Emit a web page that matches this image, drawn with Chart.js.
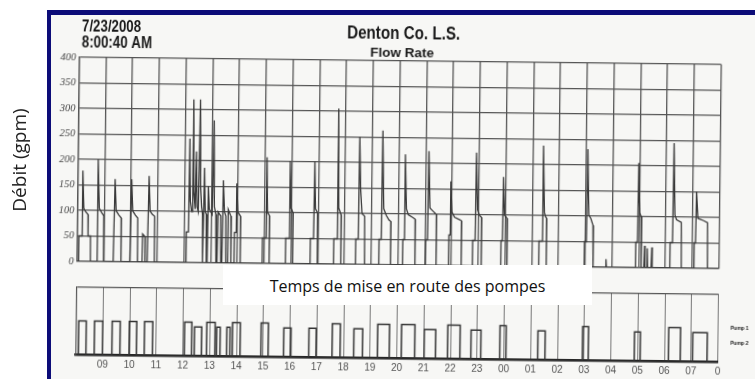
<!DOCTYPE html>
<html>
<head>
<meta charset="utf-8">
<script src="https://cdn.jsdelivr.net/npm/chart.js@4.4.0/dist/chart.umd.min.js"></script>
<style>
  html, body { margin: 0; padding: 0; background: #fff; }
  #page { position: relative; width: 755px; height: 379px; overflow: hidden; background: #fff; }
  #scan { position: absolute; left: 51px; top: 15px; width: 704px; height: 364px; background: #f7f7f5; }
  #paper { position: absolute; left: 0; top: 0; width: 755px; height: 379px;
           transform-origin: 398px 200px; transform: rotate(0.65deg); }
  #paper canvas { position: absolute; left: 0; top: 0; }
  #frameTop { position: absolute; left: 47px; top: 10px; width: 708px; height: 5px; background: #0c0c78; }
  #frameLeft { position: absolute; left: 47px; top: 10px; width: 4px; height: 369px; background: #0c0c78; }
  #caption { position: absolute; left: 223px; top: 265px; width: 369px; height: 40px; background: #fff; }
  #captionText { position: absolute; left: 0; top: 9.5px; width: 369px; text-align: center;
                 font-family: "Open Sans", sans-serif; font-size: 16px; color: #111; white-space: nowrap; }
  #yTitle { position: absolute; left: -51px; top: 146.5px; width: 140px; height: 26px; line-height: 26px;
            text-align: center; transform: rotate(-90deg);
            font-family: "Open Sans", sans-serif; font-size: 19px; color: #222; white-space: nowrap; }
</style>
</head>
<body>
<div id="page">
  <div id="scan"></div>
  <div id="paper">
    <canvas id="flowChart" width="755" height="379"></canvas>
    <canvas id="pumpChart" width="755" height="379"></canvas>
  </div>
  <div id="frameTop"></div>
  <div id="frameLeft"></div>
  <div id="caption"><div id="captionText">Temps de mise en route des pompes</div></div>
  <div id="yTitle">Débit (gpm)</div>
</div>
<script>
// heures écoulées depuis 08:00 -> étiquettes de l'axe
var hourLabels = ['09', '10', '11', '12', '13', '14', '15', '16', '17', '18', '19', '20',
                  '21', '22', '23', '00', '01', '02', '03', '04', '05', '06', '07', '0'];
var flowTicks = [0, 50, 100, 150, 200, 250, 300, 350, 400];

// tracé du débit: [heure, gpm]
var flowTrace = [
  [0, 0], [0.07, 0], [0.07, 50], [0.17, 50], [0.19, 178], [0.24, 104], [0.30, 98], [0.40, 92], [0.41, 50], [0.50, 50], [0.51, 0],
  [0.74, 0], [0.76, 200], [0.82, 104], [0.92, 95], [0.99, 90], [1.00, 0],
  [1.36, 0], [1.40, 162], [1.45, 100], [1.55, 92], [1.64, 86], [1.65, 0],
  [1.98, 0], [2.02, 162], [2.07, 100], [2.17, 92], [2.26, 86], [2.27, 0],
  [2.44, 0], [2.45, 55], [2.54, 50], [2.55, 0],
  [2.63, 0], [2.67, 169], [2.72, 100], [2.80, 94], [2.89, 90], [2.90, 0],
  [4.08, 0], [4.08, 60], [4.16, 60], [4.18, 243], [4.22, 120], [4.27, 100], [4.29, 100], [4.31, 320], [4.35, 140],
  [4.40, 105], [4.43, 218], [4.47, 110], [4.52, 100], [4.56, 320], [4.60, 150], [4.64, 110], [4.68, 95], [4.70, 0],
  [4.72, 0], [4.74, 186], [4.78, 100], [4.82, 95], [4.84, 0], [4.87, 0], [4.89, 150], [4.93, 105], [5.04, 95],
  [5.08, 279], [5.12, 110], [5.18, 95], [5.20, 0], [5.24, 0], [5.26, 100], [5.36, 92], [5.38, 0], [5.42, 0],
  [5.45, 162], [5.50, 100], [5.55, 92], [5.57, 0], [5.63, 0], [5.64, 105], [5.74, 92], [5.76, 0], [5.86, 0],
  [5.88, 60], [5.93, 60], [5.95, 156], [6.00, 100], [6.10, 92], [6.11, 0],
  [6.93, 0], [6.93, 50], [7.05, 50], [7.07, 208], [7.11, 100], [7.18, 94], [7.19, 0],
  [7.80, 0], [7.80, 50], [7.92, 50], [7.94, 201], [7.98, 110], [8.06, 100], [8.07, 0],
  [8.72, 0], [8.72, 50], [8.84, 50], [8.86, 201], [8.90, 108], [8.98, 100], [8.99, 0],
  [9.60, 0], [9.60, 50], [9.71, 50], [9.73, 305], [9.77, 110], [9.86, 97], [9.87, 0],
  [10.42, 0], [10.42, 50], [10.51, 50], [10.53, 250], [10.58, 149], [10.64, 100], [10.74, 95], [10.76, 0],
  [11.29, 0], [11.29, 50], [11.37, 50], [11.39, 263], [11.45, 110], [11.55, 97], [11.65, 88], [11.72, 85], [11.73, 0],
  [12.18, 0], [12.18, 50], [12.22, 50], [12.24, 217], [12.30, 110], [12.37, 99], [12.55, 93], [12.63, 90], [12.64, 0],
  [13.03, 0], [13.03, 50], [13.10, 50], [13.12, 224], [13.18, 112], [13.30, 106], [13.42, 100], [13.43, 0],
  [13.90, 0], [13.90, 60], [13.93, 60], [13.95, 165], [14.00, 105], [14.10, 95], [14.30, 90], [14.36, 88], [14.37, 0],
  [14.79, 0], [14.79, 50], [14.88, 50], [14.90, 222], [14.96, 110], [15.02, 100], [15.11, 95], [15.12, 0],
  [15.85, 0], [15.85, 50], [15.90, 50], [15.92, 175], [15.97, 100], [16.06, 94], [16.08, 0],
  [17.27, 0], [17.27, 50], [17.38, 50], [17.40, 237], [17.46, 106], [17.50, 98], [17.54, 95], [17.55, 0],
  [18.97, 0], [18.97, 50], [19.04, 50], [19.06, 231], [19.12, 102], [19.20, 95], [19.28, 82], [19.30, 0],
  [19.76, 0], [19.78, 16], [19.80, 0],
  [20.89, 0], [20.89, 50], [20.95, 50], [20.97, 205], [21.02, 108], [21.08, 100], [21.10, 0],
  [21.20, 0], [21.22, 43], [21.24, 0], [21.30, 0], [21.32, 38], [21.34, 0], [21.47, 0], [21.49, 40], [21.51, 0],
  [22.17, 0], [22.17, 50], [22.26, 50], [22.28, 245], [22.34, 104], [22.40, 95], [22.58, 90], [22.60, 0],
  [23.07, 0], [23.07, 50], [23.12, 50], [23.14, 151], [23.20, 98], [23.40, 94], [23.56, 90], [23.58, 0], [24, 0]
];

// marche des pompes (heures de démarrage / arrêt)
var pump1On  = [0.10, 0.69, 1.35, 1.99, 2.56, 4.06, 4.89, 5.85, 6.92, 9.58, 11.28, 12.17, 13.90, 15.85, 18.94, 22.16];
var pump1Off = [0.38, 1.00, 1.65, 2.27, 2.87, 4.33, 5.20, 6.14, 7.19, 9.88, 11.72, 12.67, 14.36, 16.08, 19.16, 22.60];
var pump2On  = [4.43, 5.26, 5.64, 7.77, 8.71, 10.39, 13.02, 14.77, 17.27, 20.88, 23.06];
var pump2Off = [4.70, 5.39, 5.76, 8.04, 8.98, 10.72, 13.45, 15.14, 17.54, 21.10, 23.60];
var pump1Level = 1.0;
var pump2Level = 0.86;

function pulses(on, off, level) {
  var pts = [{ x: 0, y: 0 }];
  for (var i = 0; i < on.length; i++) {
    pts.push({ x: on[i], y: 0 }, { x: on[i], y: level }, { x: off[i], y: level }, { x: off[i], y: 0 });
  }
  pts.push({ x: 24, y: 0 });
  return pts;
}

// textes imprimés sur la feuille scannée
var scanText = {
  id: 'scanText',
  afterDraw: function (chart) {
    var c = chart.ctx;
    function txt(s, x, y, font, align, sy) {
      c.save();
      c.fillStyle = '#1a1a1a';
      c.font = font;
      c.textAlign = align;
      c.textBaseline = 'alphabetic';
      c.translate(x, y);
      c.scale(1, sy);
      c.fillText(s, 0, 0);
      c.restore();
    }
    txt('7/23/2008', 80, 34.9, 'bold 13.3px "Liberation Sans", Arial', 'left', 1.2);
    txt('8:00:40 AM', 80, 50.9, 'bold 13.3px "Liberation Sans", Arial', 'left', 1.2);
    txt('Denton Co. L.S.', 401.7, 39.3, 'bold 15.2px "Liberation Sans", Arial', 'center', 1.25);
    txt('Flow Rate', 400.5, 56.7, 'bold 13.5px "Liberation Sans", Arial', 'center', 1);
    txt('Pump 1', 732, 326, 'bold 5px "Liberation Sans", Arial', 'left', 1);
    txt('Pump 2', 732, 341, 'bold 5px "Liberation Sans", Arial', 'left', 1);
  }
};

var flowCtx = document.getElementById('flowChart').getContext('2d');
var flowChart = new Chart(flowCtx, {
  type: 'line',
  data: {
    datasets: [{
      label: 'Flow Rate',
      data: flowTrace.map(function (p) { return { x: p[0], y: p[1] }; }),
      borderColor: '#3a3a3a',
      borderWidth: 1.3,
      pointRadius: 0,
      tension: 0
    }]
  },
  options: {
    responsive: false,
    animation: false,
    layout: { padding: { left: 40, top: 60.8, right: 35.5, bottom: 114 } },
    plugins: { legend: { display: false }, tooltip: { enabled: false } },
    scales: {
      x: {
        type: 'linear', min: 0, max: 24,
        ticks: { display: false, stepSize: 1 },
        grid: { color: '#555', lineWidth: 1.3, drawTicks: false },
        border: { color: '#555', width: 1.3 },
        afterFit: function (s) { s.height = 0; }
      },
      y: {
        min: 0, max: 400,
        afterBuildTicks: function (s) { s.ticks = flowTicks.map(function (v) { return { value: v }; }); },
        ticks: {
          color: '#444', padding: 3,
          font: { family: '"Liberation Serif", serif', style: 'italic', size: 10.5 }
        },
        grid: { color: '#555', lineWidth: 1.3, drawTicks: false },
        border: { color: '#555', width: 1.3 },
        afterFit: function (s) { s.width = 37.5; }
      }
    }
  },
  plugins: [scanText]
});

var pumpCtx = document.getElementById('pumpChart').getContext('2d');
var pumpChart = new Chart(pumpCtx, {
  type: 'line',
  data: {
    datasets: [{
      label: 'Pump 1',
      data: pulses(pump1On, pump1Off, pump1Level),
      borderColor: '#333',
      borderWidth: 1.5,
      pointRadius: 0,
      tension: 0
    }, {
      label: 'Pump 2',
      data: pulses(pump2On, pump2Off, pump2Level),
      borderColor: '#333',
      borderWidth: 1.5,
      pointRadius: 0,
      tension: 0
    }]
  },
  options: {
    responsive: false,
    animation: false,
    layout: { padding: { left: 40, top: 290.4, right: 35.5, bottom: 4.6 } },
    plugins: { legend: { display: false }, tooltip: { enabled: false } },
    scales: {
      x: {
        type: 'linear', min: 0, max: 24,
        ticks: {
          stepSize: 1, autoSkip: false, maxRotation: 0, padding: 4,
          color: '#555',
          font: { family: '"Liberation Sans", Arial', size: 10 },
          callback: function (v) { return v >= 1 ? hourLabels[v - 1] : ''; }
        },
        grid: { color: '#777', lineWidth: 1, drawTicks: false },
        border: { color: '#222', width: 2.5 },
        afterFit: function (s) { s.height = 16; }
      },
      y: {
        min: 0, max: 2,
        ticks: { display: false, stepSize: 2 },
        grid: { color: '#555', lineWidth: 1.2, drawTicks: false },
        border: { color: '#555', width: 1.2 },
        afterFit: function (s) { s.width = 37.5; }
      }
    }
  }
});
</script>
</body>
</html>
